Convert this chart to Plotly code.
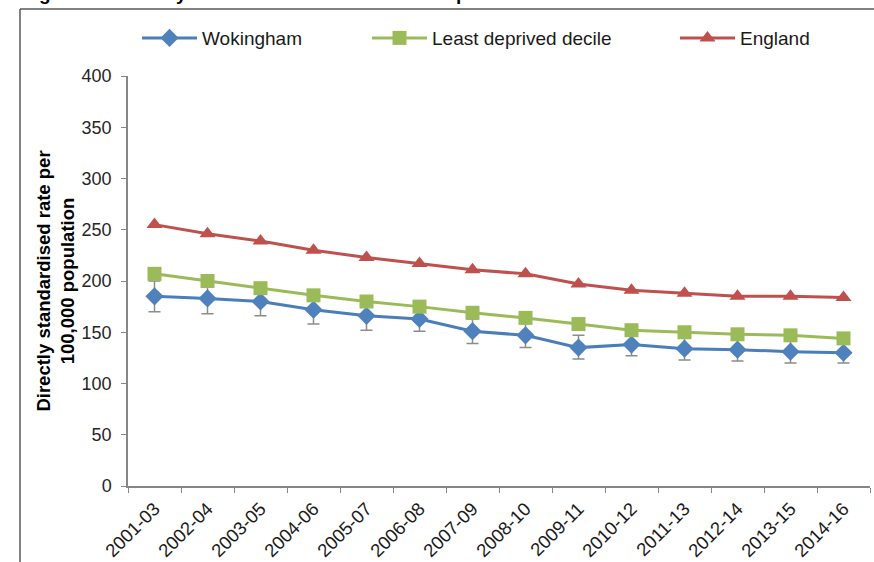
import plotly.graph_objects as go

periods = ["2001-03", "2002-04", "2003-05", "2004-06", "2005-07", "2006-08", "2007-09",
           "2008-10", "2009-11", "2010-12", "2011-13", "2012-14", "2013-15", "2014-16"]
wokingham = [185, 183, 180, 172, 166, 163, 151, 147, 135, 138, 134, 133, 131, 130]
wokingham_lower = [170, 168, 166, 158, 152, 151, 139, 135, 124, 127, 123, 122, 120, 120]
wokingham_upper = [200, 198, 194, 186, 180, 176, 163, 159, 147, 149, 146, 145, 142, 141]
least_deprived = [207, 200, 193, 186, 180, 175, 169, 164, 158, 152, 150, 148, 147, 144]
england = [255, 246, 239, 230, 223, 217, 211, 207, 197, 191, 188, 185, 185, 184]

y_ticks = [0, 50, 100, 150, 200, 250, 300, 350, 400]
y_title = "Directly standardised rate per<br>100,000 population"
fig_title = "Figure 5: Mortality rate from causes considered preventable"

W, H = 874, 562
L, R, T, B = 128, 4, 76, 75.5
pw = W - L - R
ph = H - T - B


def px(x):
    return (x - L) / pw


def py(y):
    return (H - B - y) / ph


FONT = "Liberation Sans, Arial, sans-serif"

fig = go.Figure()

fig.add_trace(go.Scatter(
    x=periods, y=wokingham, name="Wokingham", mode="lines+markers",
    line=dict(color="#4A7EBB", width=3),
    marker=dict(symbol="diamond", size=14, color="#4F81BD", line=dict(width=0)),
    error_y=dict(type="data", symmetric=False,
                 array=[u - v for u, v in zip(wokingham_upper, wokingham)],
                 arrayminus=[v - l for v, l in zip(wokingham, wokingham_lower)],
                 color="#8C8C8C", thickness=1.5, width=6),
    legend="legend", showlegend=True,
))
fig.add_trace(go.Scatter(
    x=periods, y=least_deprived, name="Least deprived decile", mode="lines+markers",
    line=dict(color="#9BBB59", width=3),
    marker=dict(symbol="square", size=14, color="#9BBB59", line=dict(width=0)),
    legend="legend2", showlegend=True,
))
fig.add_trace(go.Scatter(
    x=periods, y=england, name="England", mode="lines+markers",
    line=dict(color="#C0504D", width=3),
    marker=dict(symbol="triangle-up", size=14, color="#C0504D", line=dict(width=0)),
    legend="legend3", showlegend=True,
))

leg_common = dict(orientation="h", yanchor="middle", y=py(38), xanchor="left",
                  font=dict(family=FONT, size=19, color="#1a1a1a"),
                  bgcolor="rgba(0,0,0,0)", itemwidth=55, borderwidth=0)

fig.update_layout(
    width=W, height=H,
    showlegend=True,
    margin=dict(l=L, r=R, t=T, b=B, autoexpand=False),
    paper_bgcolor="white", plot_bgcolor="white",
    font=dict(family=FONT, color="#262626"),
    legend=dict(leg_common, x=px(137)),
    legend2=dict(leg_common, x=px(367)),
    legend3=dict(leg_common, x=px(675)),
    xaxis=dict(
        type="category", range=[-0.5, 13.5], tickson="boundaries",
        ticks="outside", ticklen=5, tickcolor="#868686", tickwidth=1,
        showline=True, linecolor="#868686", linewidth=1.5,
        showgrid=False, zeroline=False, tickangle=-45, automargin=False,
        ticklabelstandoff=3,
        tickfont=dict(family=FONT, size=18.5, color="#1a1a1a"),
    ),
    yaxis=dict(
        range=[0, 400], tickvals=y_ticks, ticks="outside", ticklen=5,
        tickcolor="#868686", tickwidth=1,
        showline=True, linecolor="#868686", linewidth=1.5,
        showgrid=False, zeroline=False, automargin=False,
        ticklabelstandoff=6,
        tickfont=dict(family=FONT, size=18, color="#262626"),
        title=dict(text=y_title, standoff=2,
                   font=dict(family=FONT, size=18.5, color="#000000", weight="bold")),
    ),
    shapes=[
        dict(type="line", xref="paper", yref="paper", x0=px(20), x1=px(W + 5),
             y0=py(9), y1=py(9), line=dict(color="#595959", width=1.5)),
        dict(type="line", xref="paper", yref="paper", x0=px(20), x1=px(20),
             y0=py(9), y1=py(H + 5), line=dict(color="#595959", width=1.5)),
    ],
    annotations=[
        dict(text="<b>" + fig_title + "</b>", xref="paper", yref="paper",
             x=px(20), y=py(6), xanchor="left", yanchor="bottom", showarrow=False,
             font=dict(family=FONT, size=19, color="#000000")),
    ],
)

fig.write_html("out.html",
               config={"displayModeBar": False},
               post_script="document.body.style.margin='0';document.body.style.overflow='hidden';")
